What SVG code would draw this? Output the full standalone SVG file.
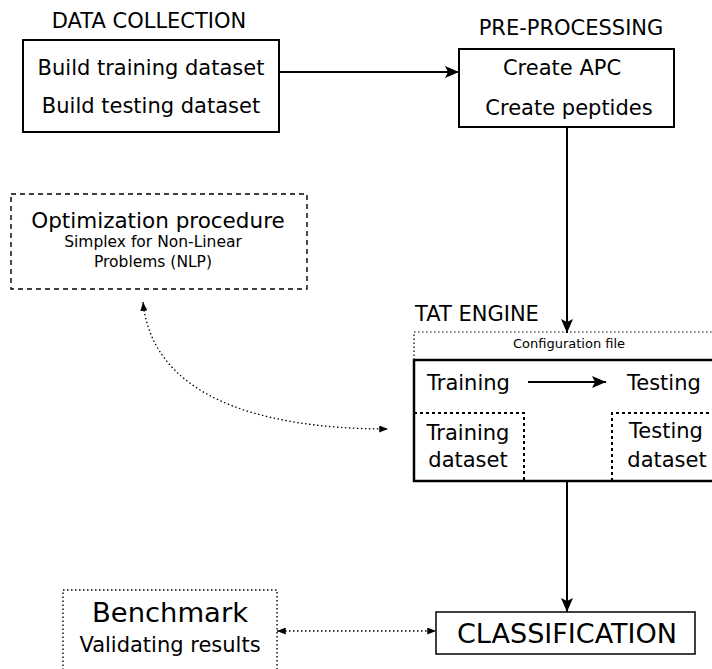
<svg xmlns="http://www.w3.org/2000/svg" width="712" height="669" viewBox="0 0 712 669">
<style>
text{font-family:"DejaVu Sans","Liberation Sans",sans-serif;fill:#000}
.t21{font-size:21px}
.mid{text-anchor:middle}
.solid{fill:#fff;stroke:#000;stroke-width:2}
.line{fill:none;stroke:#000;stroke-width:2}
.dot{fill:none;stroke:#000;stroke-width:1.3;stroke-dasharray:1.5 2.5}
</style>
<defs>
<marker id="ah" viewBox="0 0 14 12" refX="14" refY="6" markerWidth="14" markerHeight="12" markerUnits="userSpaceOnUse" orient="auto">
<path d="M0,0 L14,6 L0,12 L3,6 Z" fill="#000"/>
</marker>
<marker id="ahs" viewBox="0 0 10 8" refX="10" refY="4" markerWidth="9" markerHeight="7" markerUnits="userSpaceOnUse" orient="auto-start-reverse">
<path d="M0,0 L10,4 L0,8 Z" fill="#000"/>
</marker>
</defs>

<g id="connectors">
<line class="line" x1="279" y1="72" x2="459" y2="72" marker-end="url(#ah)"/>
<line class="line" x1="567" y1="127" x2="567" y2="333" marker-end="url(#ah)"/>
<line class="line" x1="567" y1="481" x2="567" y2="612" marker-end="url(#ah)"/>
<line class="line" x1="528" y1="382" x2="606" y2="382" marker-end="url(#ah)"/>
<path class="dot" d="M143,302 C152,392 250,429 388,429" marker-start="url(#ahs)" marker-end="url(#ahs)"/>
<line class="dot" x1="277" y1="631" x2="436" y2="631" marker-start="url(#ahs)" marker-end="url(#ahs)"/>
</g>

<g id="data-collection">
<text class="t21 mid" x="149" y="28">DATA COLLECTION</text>
<rect class="solid" x="23" y="40" width="256" height="92"/>
<text class="t21 mid" x="151" y="75">Build training dataset</text>
<text class="t21 mid" x="151" y="113">Build testing dataset</text>
</g>

<g id="pre-processing">
<text class="t21 mid" x="571" y="35">PRE-PROCESSING</text>
<rect class="solid" x="459" y="49" width="215" height="78"/>
<text class="t21 mid" x="562" y="75">Create APC</text>
<text class="t21 mid" x="569" y="115">Create peptides</text>
</g>

<g id="optimization">
<rect x="11" y="194" width="296" height="95" fill="none" stroke="#000" stroke-width="1.4" stroke-dasharray="5 4"/>
<text class="mid" x="158" y="228" font-size="21.5">Optimization procedure</text>
<text class="mid" x="153" y="247" font-size="15.5" fill="#222">Simplex for Non-Linear</text>
<text class="mid" x="153" y="267" font-size="15.5" fill="#222">Problems (NLP)</text>
</g>

<g id="tat-engine">
<text class="t21" x="415" y="321">TAT ENGINE</text>
<rect x="414" y="332" width="310" height="28" fill="none" stroke="#000" stroke-width="1.2" stroke-dasharray="1.5 2.5"/>
<text class="mid" x="569" y="348" font-size="13" fill="#222">Configuration file</text>
<rect x="414" y="360" width="310" height="121" fill="none" stroke="#000" stroke-width="2.5"/>
<text class="t21" x="427" y="390">Training</text>
<text class="t21" x="627" y="390" fill="#111">Testing</text>
<g id="training-dataset">
<path d="M414,413 H524 V481" fill="none" stroke="#000" stroke-width="2" stroke-dasharray="3 3"/>
<text class="t21 mid" x="468" y="440">Training</text>
<text class="t21 mid" x="468" y="467">dataset</text>
</g>
<g id="testing-dataset">
<path d="M612,481 V413 H712" fill="none" stroke="#000" stroke-width="2" stroke-dasharray="3 3"/>
<text class="t21 mid" x="666" y="438">Testing</text>
<text class="t21 mid" x="667" y="467">dataset</text>
</g>
</g>

<g id="classification">
<rect x="436" y="612" width="259" height="42" fill="#fff" stroke="#000" stroke-width="1.5"/>
<text class="mid" x="567" y="643" font-size="27" textLength="220" lengthAdjust="spacingAndGlyphs">CLASSIFICATION</text>
</g>

<g id="benchmark">
<rect x="63" y="590" width="214" height="100" fill="none" stroke="#000" stroke-width="1.4" stroke-dasharray="1.5 2.5"/>
<text class="mid" x="170" y="622" font-size="26" textLength="156" lengthAdjust="spacingAndGlyphs">Benchmark</text>
<text class="t21 mid" x="170" y="652">Validating results</text>
</g>
</svg>
